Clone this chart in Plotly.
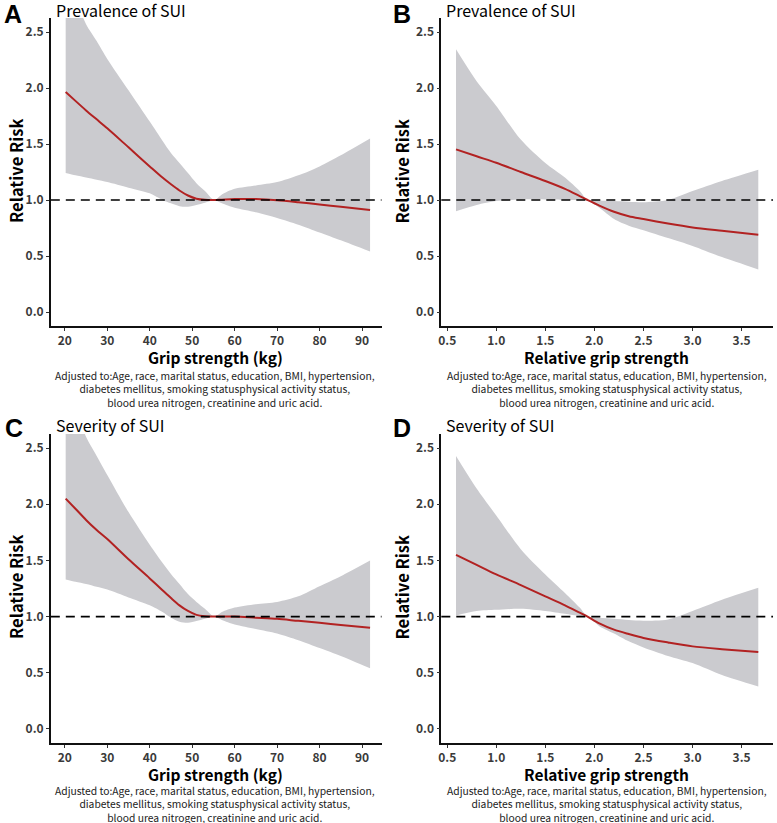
import plotly.graph_objects as go

# ---------------- data ----------------
grip_x = [20.2, 22.5, 25, 27.5, 30, 35, 40, 43, 45, 47, 49, 51, 53, 55.2, 57, 60, 65, 70, 75, 80, 85, 91.9]

a_est = [1.965, 1.885, 1.80, 1.72, 1.64, 1.47, 1.30, 1.20, 1.14, 1.085, 1.04, 1.012, 1.002, 1.0, 1.003, 1.008, 1.008, 0.998, 0.98, 0.96, 0.94, 0.91]
a_up  = [3.05, 2.80, 2.57, 2.42, 2.26, 1.98, 1.70, 1.53, 1.42, 1.33, 1.24, 1.15, 1.08, 1.0, 1.05, 1.10, 1.13, 1.16, 1.22, 1.30, 1.40, 1.55]
a_lo  = [1.24, 1.22, 1.20, 1.18, 1.16, 1.11, 1.06, 1.00, 0.97, 0.945, 0.94, 0.955, 0.975, 1.0, 0.97, 0.93, 0.89, 0.84, 0.78, 0.71, 0.64, 0.54]

c_est = [2.05, 1.96, 1.86, 1.77, 1.69, 1.51, 1.34, 1.235, 1.165, 1.10, 1.05, 1.015, 1.003, 1.0, 1.0, 1.0, 0.99, 0.98, 0.962, 0.945, 0.925, 0.90]
c_up  = [3.15, 2.88, 2.60, 2.43, 2.26, 1.93, 1.64, 1.48, 1.38, 1.29, 1.20, 1.13, 1.07, 1.0, 1.04, 1.08, 1.11, 1.13, 1.18, 1.27, 1.36, 1.50]
c_lo  = [1.33, 1.31, 1.29, 1.265, 1.24, 1.17, 1.10, 1.04, 0.99, 0.955, 0.945, 0.96, 0.98, 1.0, 0.97, 0.93, 0.89, 0.85, 0.79, 0.72, 0.65, 0.54]

rel_x = [0.59, 0.8, 1.0, 1.25, 1.5, 1.7, 1.85, 1.93, 2.05, 2.2, 2.35, 2.5, 2.75, 3.0, 3.3, 3.67]

b_est = [1.452, 1.39, 1.333, 1.25, 1.17, 1.10, 1.035, 1.0, 0.95, 0.895, 0.855, 0.83, 0.79, 0.755, 0.725, 0.69]
b_up  = [2.345, 2.06, 1.84, 1.54, 1.33, 1.20, 1.08, 1.0, 0.995, 0.99, 0.985, 0.98, 1.0, 1.08, 1.17, 1.27]
b_lo  = [0.90, 0.955, 0.99, 1.005, 1.005, 1.003, 1.0, 1.0, 0.93, 0.83, 0.77, 0.73, 0.66, 0.59, 0.49, 0.38]

d_est = [1.55, 1.46, 1.375, 1.28, 1.18, 1.10, 1.035, 1.0, 0.94, 0.884, 0.845, 0.81, 0.77, 0.735, 0.71, 0.685]
d_up  = [2.43, 2.14, 1.90, 1.60, 1.375, 1.21, 1.08, 1.0, 0.99, 0.98, 0.97, 0.964, 0.975, 1.05, 1.15, 1.256]
d_lo  = [1.01, 1.05, 1.06, 1.07, 1.05, 1.025, 1.005, 1.0, 0.915, 0.85, 0.78, 0.726, 0.65, 0.586, 0.48, 0.378]

grip_ticks = [20, 30, 40, 50, 60, 70, 80, 90]
rel_ticks = [0.5, 1.0, 1.5, 2.0, 2.5, 3.0, 3.5]
y_ticks = [0.0, 0.5, 1.0, 1.5, 2.0, 2.5]

panel_letters = ["A", "B", "C", "D"]
panel_titles = ["Prevalence of SUI", "Prevalence of SUI", "Severity of SUI", "Severity of SUI"]
x_titles = ["Grip strength (kg)", "Relative grip strength", "Grip strength (kg)", "Relative grip strength"]
y_title = "Relative Risk"
caption = ("Adjusted to:Age, race, marital status, education, BMI, hypertension,<br>"
           "diabetes mellitus, smoking statusphysical activity status,<br>"
           "blood urea nitrogen, creatinine and uric acid.")

# ---------------- figure ----------------
W, H = 777, 823
RIBBON = "#cbcbcf"
RED = "#b22222"
FONT = "Noto Sans CJK JP"

panels = [
    (grip_x, a_est, a_up, a_lo, "x", "y"),
    (rel_x, b_est, b_up, b_lo, "x2", "y2"),
    (grip_x, c_est, c_up, c_lo, "x3", "y3"),
    (rel_x, d_est, d_up, d_lo, "x4", "y4"),
]

fig = go.Figure()
for xs, est, up, lo, xa, ya in panels:
    fig.add_trace(go.Scatter(x=xs, y=lo, mode="lines", line=dict(width=0, color=RIBBON, shape="spline", smoothing=0.8),
                             xaxis=xa, yaxis=ya, showlegend=False, hoverinfo="skip"))
    fig.add_trace(go.Scatter(x=xs, y=up, mode="lines", fill="tonexty", fillcolor=RIBBON,
                             line=dict(width=0, color=RIBBON, shape="spline", smoothing=0.8),
                             xaxis=xa, yaxis=ya, showlegend=False, hoverinfo="skip"))
    fig.add_trace(go.Scatter(x=xs, y=est, mode="lines", line=dict(width=2, color=RED, shape="spline", smoothing=0.8),
                             xaxis=xa, yaxis=ya, showlegend=False))

def px(xp):
    return xp / W

def py(yp):
    return 1 - yp / H

xdom_left = [px(48), px(380)]
xdom_right = [px(440), px(773)]
ydom_top = [py(326), py(18)]
ydom_bot = [py(743), py(434)]

axis_common = dict(showline=True, linecolor="#111111", linewidth=1.6, ticks="outside", ticklen=3,
                   tickcolor="#333333", tickwidth=1, showgrid=False, zeroline=False,
                   tickfont=dict(family=FONT, size=12, color="#3a3a3a", weight="bold"))

grip_range = [16.7, 94.6]
rel_range = [0.44, 3.82]
y_range = [-0.125, 2.625]

layout_axes = {}
specs = [
    ("xaxis", "yaxis", "y", "x", xdom_left, ydom_top, grip_range, grip_ticks, ".0f"),
    ("xaxis2", "yaxis2", "y2", "x2", xdom_right, ydom_top, rel_range, rel_ticks, ".1f"),
    ("xaxis3", "yaxis3", "y3", "x3", xdom_left, ydom_bot, grip_range, grip_ticks, ".0f"),
    ("xaxis4", "yaxis4", "y4", "x4", xdom_right, ydom_bot, rel_range, rel_ticks, ".1f"),
]
for xk, yk, yanchor, xanchor, xd, yd, xr, xt, fmt in specs:
    layout_axes[xk] = dict(axis_common, domain=xd, range=xr, tickvals=xt, tickformat=fmt, anchor=yanchor)
    layout_axes[yk] = dict(axis_common, domain=yd, range=y_range, tickvals=y_ticks, tickformat=".1f", anchor=xanchor)

fig.update_layout(width=W, height=H, margin=dict(l=0, r=0, t=0, b=0),
                  plot_bgcolor="white", paper_bgcolor="white", **layout_axes)

# reference line at RR = 1
for xr_ in ["x", "x2", "x3", "x4"]:
    yr_ = xr_.replace("x", "y")
    fig.add_shape(type="line", xref=f"{xr_} domain", yref=yr_, x0=0, x1=1, y0=1, y1=1,
                  line=dict(color="black", width=1.6, dash="9px,6px"), layer="above")

ann = []
letter_pos = [(10, 14), (401, 14), (11, 428), (401, 428)]
title_pos = [(51, 10), (443, 10), (51, 425), (443, 425)]
centers = [213, 606, 213, 606]
xtitle_y = [357, 357, 774, 774]
caption_mid_y = [389, 389, 804, 804]
ytitle_x = [13, 401, 13, 401]
ytitle_y = [171, 171, 587, 587]
for i in range(4):
    ann.append(dict(text=panel_letters[i], x=px(letter_pos[i][0]), y=py(letter_pos[i][1]), xref="paper", yref="paper",
                    showarrow=False, xanchor="center", yanchor="middle",
                    font=dict(family="Liberation Sans", size=25, color="black", weight="bold")))
    ann.append(dict(text=panel_titles[i], x=px(title_pos[i][0]), y=py(title_pos[i][1]), xref="paper", yref="paper",
                    showarrow=False, xanchor="left", yanchor="middle",
                    font=dict(family=FONT, size=16, color="black", weight="normal")))
    ann.append(dict(text=x_titles[i], x=px(centers[i]), y=py(xtitle_y[i]), xref="paper", yref="paper",
                    showarrow=False, xanchor="center", yanchor="middle",
                    font=dict(family=FONT, size=15.5, color="black", weight="bold")))
    ann.append(dict(text=caption, x=px(centers[i]), y=py(caption_mid_y[i]), xref="paper", yref="paper",
                    showarrow=False, xanchor="center", yanchor="middle", align="center",
                    font=dict(family=FONT, size=10.3, color="#222222")))
    ann.append(dict(text=y_title, x=px(ytitle_x[i]), y=py(ytitle_y[i]), xref="paper", yref="paper",
                    showarrow=False, xanchor="center", yanchor="middle", textangle=-90,
                    font=dict(family=FONT, size=16.5, color="black", weight="bold")))
fig.update_layout(annotations=ann)

fig.write_html("out.html", config={"displayModeBar": False},
               post_script="document.body.style.margin='0px';")
